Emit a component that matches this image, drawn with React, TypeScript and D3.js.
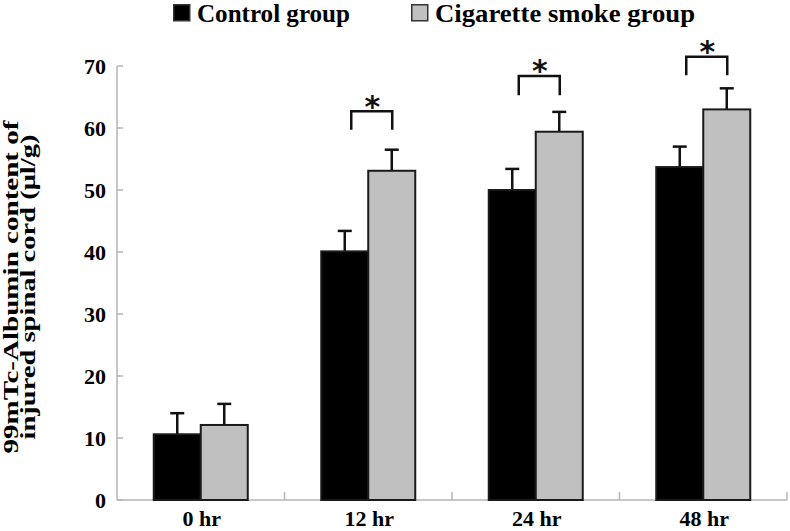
import React, { useEffect, useRef } from 'react';
import * as d3 from 'd3';

const categories = ['0 hr', '12 hr', '24 hr', '48 hr'];
const seriesNames = ['Control group', 'Cigarette smoke group'];
const controlValues = [10.6, 40.1, 50.0, 53.7];
const controlErrors = [3.4, 3.3, 3.4, 3.3];
const smokeValues = [12.1, 53.1, 59.4, 63.0];
const smokeErrors = [3.4, 3.4, 3.2, 3.4];
const yTicks = [0, 10, 20, 30, 40, 50, 60, 70];
// significance brackets: category, top of bracket, bottom of legs
const sigCategories = ['12 hr', '24 hr', '48 hr'];
const sigTop = [62.7, 68.4, 71.5];
const sigBottom = [59.7, 65.3, 68.5];
const yTitleLines = ['99mTc-Albumin content of', 'injured spinal cord (μl/g)'];

export default function App() {
  const ref = useRef<SVGSVGElement | null>(null);

  const createChart = () => {
    const svg = d3.select(ref.current);
    svg.selectAll('*').remove();

    const margin = { top: 66, right: 3, bottom: 31, left: 117 };
    const width = 790 - margin.left - margin.right;
    const height = 531 - margin.top - margin.bottom;
    const serif = '"Liberation Serif", "Times New Roman", serif';

    const x_scale = d3.scaleBand().domain(categories).range([0, width]);
    const y_scale = d3.scaleLinear().domain([0, 70]).range([height, 0]);
    const barW = 47;

    const chart = svg
      .append('g')
      .attr('transform', 'translate(' + margin.left + ',' + margin.top + ')');

    // axes (gray, ticks inside)
    const axisColor = '#b5b5b5';
    chart
      .append('line')
      .attr('x1', 0)
      .attr('x2', 0)
      .attr('y1', y_scale(70))
      .attr('y2', height)
      .style('stroke', axisColor)
      .style('stroke-width', 1.5);
    chart
      .append('line')
      .attr('x1', 0)
      .attr('x2', width)
      .attr('y1', height)
      .attr('y2', height)
      .style('stroke', axisColor)
      .style('stroke-width', 1.5);

    chart
      .selectAll()
      .data(yTicks)
      .enter()
      .append('line')
      .attr('x1', 0)
      .attr('x2', 6)
      .attr('y1', (d) => y_scale(d))
      .attr('y2', (d) => y_scale(d))
      .style('stroke', axisColor)
      .style('stroke-width', 1.5);

    const bounds = categories.map((c) => x_scale(c) as number).concat([width]).slice(1);
    chart
      .selectAll()
      .data(bounds)
      .enter()
      .append('line')
      .attr('x1', (d) => d)
      .attr('x2', (d) => d)
      .attr('y1', height)
      .attr('y2', height - 8)
      .style('stroke', axisColor)
      .style('stroke-width', 1.5);

    chart
      .selectAll()
      .data(yTicks)
      .enter()
      .append('text')
      .attr('x', -11)
      .attr('y', (d) => y_scale(d) + 7.5)
      .style('text-anchor', 'end')
      .style('font-family', serif)
      .style('font-weight', 'bold')
      .style('font-size', '22px')
      .text((d) => d);

    chart
      .selectAll()
      .data(categories)
      .enter()
      .append('text')
      .attr('x', (d) => (x_scale(d) as number) + x_scale.bandwidth() / 2 + 1)
      .attr('y', height + 26)
      .style('text-anchor', 'middle')
      .style('font-family', serif)
      .style('font-weight', 'bold')
      .style('font-size', '22px')
      .text((d) => d);

    const center = (c: string) => (x_scale(c) as number) + x_scale.bandwidth() / 2;

    const series = [
      { values: controlValues, errors: controlErrors, fill: '#000000', offset: -barW },
      { values: smokeValues, errors: smokeErrors, fill: '#c0c0c0', offset: 0 },
    ];

    series.forEach((s) => {
      const rows = categories.map((c, i) => ({ c, v: s.values[i], e: s.errors[i] }));
      // error bars (upper only)
      chart
        .selectAll()
        .data(rows)
        .enter()
        .append('line')
        .attr('x1', (d) => center(d.c) + s.offset + barW / 2)
        .attr('x2', (d) => center(d.c) + s.offset + barW / 2)
        .attr('y1', (d) => y_scale(d.v))
        .attr('y2', (d) => y_scale(d.v + d.e))
        .style('stroke', '#111')
        .style('stroke-width', 2.5);
      chart
        .selectAll()
        .data(rows)
        .enter()
        .append('line')
        .attr('x1', (d) => center(d.c) + s.offset + barW / 2 - 7)
        .attr('x2', (d) => center(d.c) + s.offset + barW / 2 + 7)
        .attr('y1', (d) => y_scale(d.v + d.e))
        .attr('y2', (d) => y_scale(d.v + d.e))
        .style('stroke', '#111')
        .style('stroke-width', 2.5);
      chart
        .selectAll()
        .data(rows)
        .enter()
        .append('rect')
        .attr('x', (d) => center(d.c) + s.offset)
        .attr('y', (d) => y_scale(d.v))
        .attr('width', barW)
        .attr('height', (d) => height - y_scale(d.v))
        .style('fill', s.fill)
        .style('stroke', '#1a1a1a')
        .style('stroke-width', 2);
    });

    // significance brackets
    const sig = sigCategories.map((c, i) => ({ c, top: sigTop[i], bottom: sigBottom[i] }));
    chart
      .selectAll()
      .data(sig)
      .enter()
      .append('path')
      .attr('d', (d) => {
        const x0 = center(d.c) - 17;
        const x1 = center(d.c) + 24;
        return (
          'M' + x0 + ',' + y_scale(d.bottom) +
          'V' + y_scale(d.top) +
          'H' + x1 +
          'V' + y_scale(d.bottom)
        );
      })
      .style('fill', 'none')
      .style('stroke', '#111')
      .style('stroke-width', 2.5);
    chart
      .selectAll()
      .data(sig)
      .enter()
      .append('text')
      .attr('x', (d) => center(d.c) + 4)
      .attr('y', (d) => y_scale(d.top) - 11.5 + 17)
      .style('text-anchor', 'middle')
      .style('font-family', '"DejaVu Sans", sans-serif')
      .style('font-weight', 'bold')
      .style('font-size', '30px')
      .style('fill', '#111')
      .text('*');

    // y title
    const titleW = [333, 305];
    svg
      .selectAll()
      .data(yTitleLines)
      .enter()
      .append('text')
      .attr('transform', (d, i) => 'translate(' + (18 + i * 17) + ',287) rotate(-90)')
      .attr('textLength', (d, i) => titleW[i])
      .attr('lengthAdjust', 'spacingAndGlyphs')
      .style('text-anchor', 'middle')
      .style('font-family', serif)
      .style('font-weight', 'bold')
      .style('font-size', '20px')
      .text((d) => d);

    // legend
    const legendX = [173, 411];
    const legendFill = ['#000000', '#c0c0c0'];
    const legend = svg
      .selectAll()
      .data(seriesNames)
      .enter()
      .append('g')
      .attr('transform', (d, i) => 'translate(' + legendX[i] + ',4)');
    legend
      .append('rect')
      .attr('x', 0.75)
      .attr('y', 0.75)
      .attr('width', 16)
      .attr('height', 16)
      .style('fill', (d, i) => legendFill[i])
      .style('stroke', '#333')
      .style('stroke-width', 1.5);
    legend
      .append('text')
      .attr('x', 24)
      .attr('y', 18)
      .attr('textLength', (d, i) => [153, 260][i])
      .attr('lengthAdjust', 'spacingAndGlyphs')
      .style('font-family', serif)
      .style('font-weight', 'bold')
      .style('font-size', '25px')
      .text((d) => d);
  };

  useEffect(() => {
    createChart();
  }, []);

  return (
    <svg
      ref={ref}
      width={790}
      height={531}
      style={{ position: 'absolute', left: 0, top: 0, background: '#fff' }}
    />
  );
}
